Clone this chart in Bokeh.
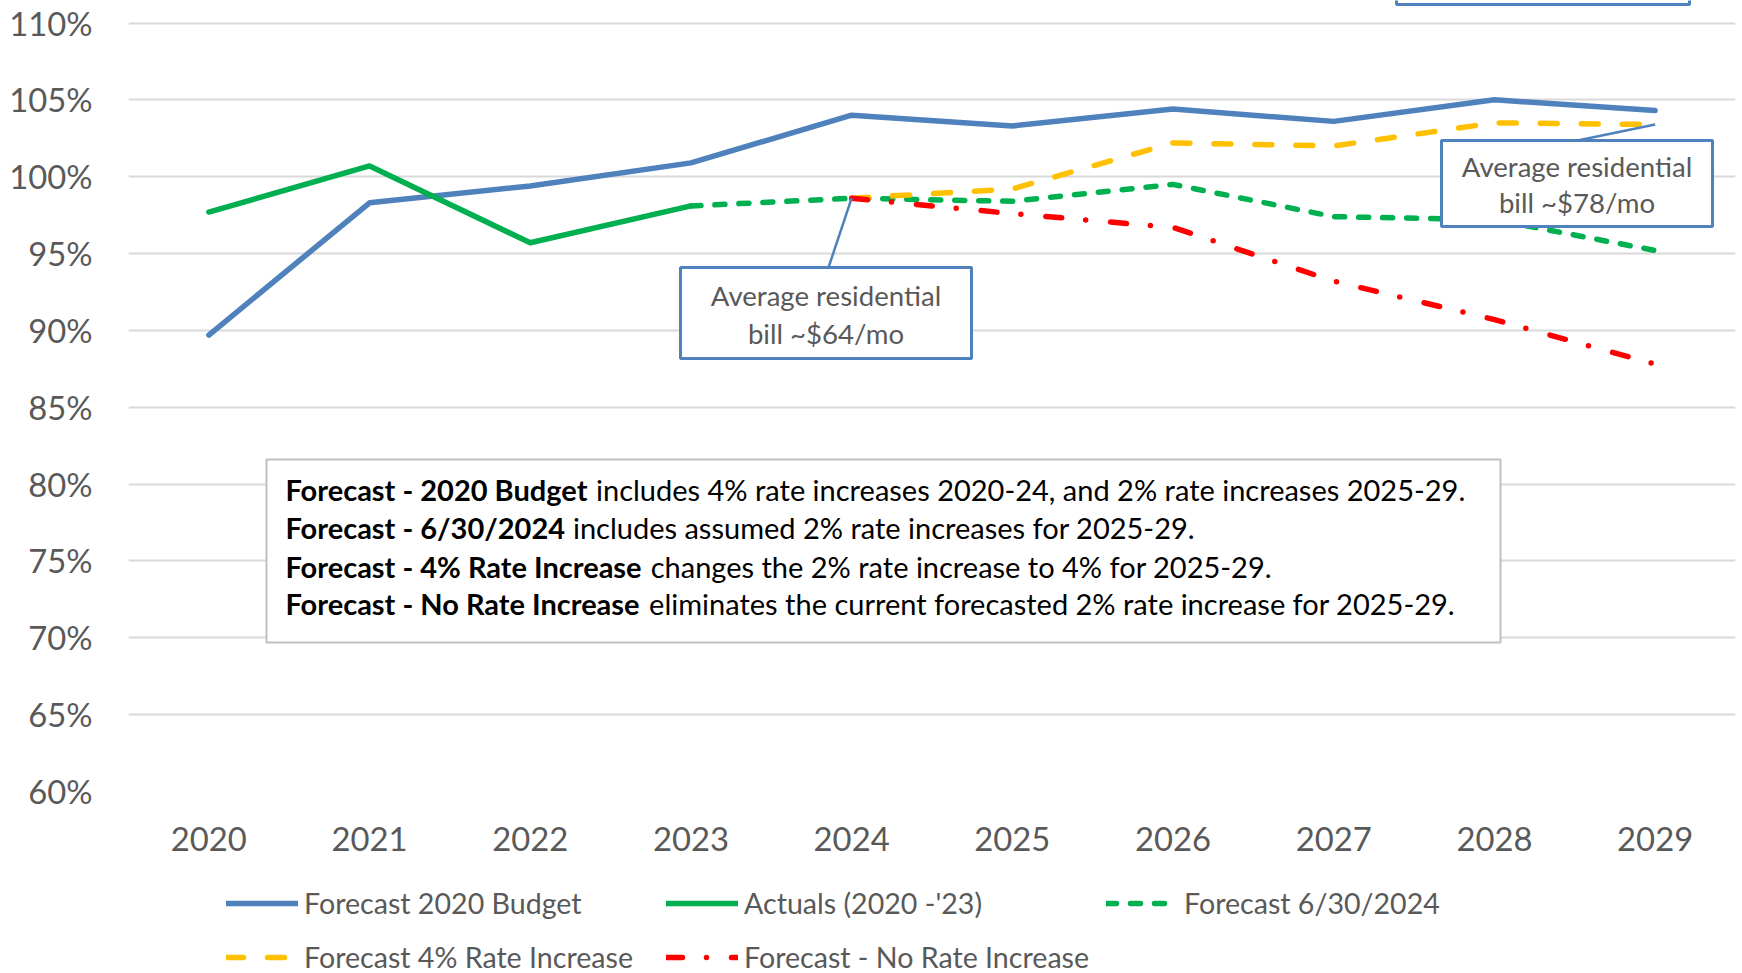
import os, glob, struct, subprocess
from bokeh.plotting import figure
from bokeh.layouts import column
from bokeh.models import Range1d, FixedTicker, NumeralTickFormatter, Legend, LegendItem
from bokeh.core.properties import value
from bokeh.embed import file_html
from bokeh.resources import INLINE

# ---------------- data ----------------
years = ["2020", "2021", "2022", "2023", "2024", "2025", "2026", "2027", "2028", "2029"]
budget_2020 = [0.897, 0.983, 0.994, 1.009, 1.040, 1.033, 1.044, 1.036, 1.050, 1.043]
actual_years = ["2020", "2021", "2022", "2023"]
actuals = [0.977, 1.007, 0.957, 0.981]
fc630_years = ["2023", "2024", "2025", "2026", "2027", "2028", "2029"]
fc630 = [0.981, 0.986, 0.984, 0.995, 0.974, 0.972, 0.952]
fc4_years = ["2024", "2025", "2026", "2027", "2028", "2029"]
fc4 = [0.986, 0.992, 1.022, 1.020, 1.035, 1.034]
fcno_years = ["2024", "2025", "2026", "2027", "2028", "2029"]
fcno = [0.986, 0.976, 0.967, 0.932, 0.907, 0.878]
y_ticks = [0.60, 0.65, 0.70, 0.75, 0.80, 0.85, 0.90, 0.95, 1.00, 1.05, 1.10]

series_labels = ["Forecast 2020 Budget", "Actuals (2020 -'23)", "Forecast 6/30/2024",
                 "Forecast 4% Rate Increase", "Forecast - No Rate Increase"]
note_bold = ["Forecast - 2020 Budget", "Forecast - 6/30/2024",
             "Forecast - 4% Rate Increase", "Forecast - No Rate Increase"]
note_rest = ["includes 4% rate increases 2020-24, and 2% rate increases 2025-29.",
             "includes assumed 2% rate increases for 2025-29.",
             "changes the 2% rate increase to 4% for 2025-29.",
             "eliminates the current forecasted 2% rate increase for 2025-29."]
callout_64 = ["Average residential", "bill ~$64/mo"]
callout_78 = ["Average residential", "bill ~$78/mo"]

BLUE = "#4F81BD"
GREEN = "#00B050"
YELLOW = "#FFC000"
RED = "#FF0000"
GREY_TXT = "#595959"
FONT = "Lato"

# ---------------- font metrics (for placing bold/regular runs) ----------------
def _find_font(family, style):
    path = None
    try:
        r = subprocess.run(["fc-match", "-f", "%{file}", f"{family}:style={style}"],
                           capture_output=True, text=True, timeout=5)
        c = r.stdout.strip()
        if c and os.path.exists(c) and family.replace(" ", "").lower() in os.path.basename(c).replace(" ", "").lower():
            path = c
    except Exception:
        pass
    if path is None:
        name = f"{family.replace(' ', '')}-{style}"
        for root in ["/usr/share/fonts", "/usr/local/share/fonts",
                     os.path.expanduser("~/.fonts"), os.path.expanduser("~/.local/share/fonts")]:
            hits = glob.glob(os.path.join(root, "**", name + ".*"), recursive=True)
            if hits:
                path = hits[0]
                break
    return path


def _load_metrics(path):
    data = open(path, "rb").read()
    base = 0
    if data[:4] == b"ttcf":
        base = struct.unpack(">I", data[12:16])[0]
    num = struct.unpack(">H", data[base + 4:base + 6])[0]
    tables = {}
    for i in range(num):
        tag, _, off, ln = struct.unpack(">4sIII", data[base + 12 + 16 * i:base + 28 + 16 * i])
        tables[tag] = off
    head = tables[b"head"]
    upem = struct.unpack(">H", data[head + 18:head + 20])[0]
    hhea = tables[b"hhea"]
    nhm = struct.unpack(">H", data[hhea + 34:hhea + 36])[0]
    hm = tables[b"hmtx"]
    adv = [struct.unpack(">H", data[hm + 4 * i:hm + 4 * i + 2])[0] for i in range(nhm)]
    cm = tables[b"cmap"]
    nsub = struct.unpack(">H", data[cm + 2:cm + 4])[0]
    subs = []
    for i in range(nsub):
        pid, eid, so = struct.unpack(">HHI", data[cm + 4 + 8 * i:cm + 12 + 8 * i])
        subs.append((pid, eid, cm + so))
    subs.sort(key=lambda s: 0 if (s[0], s[1]) == (3, 1) else 1)
    cmap = {}
    for pid, eid, st in subs:
        fmt = struct.unpack(">H", data[st:st + 2])[0]
        if fmt != 4:
            continue
        segx2 = struct.unpack(">H", data[st + 6:st + 8])[0]
        n = segx2 // 2
        ends = struct.unpack(">%dH" % n, data[st + 14:st + 14 + segx2])
        starts = struct.unpack(">%dH" % n, data[st + 16 + segx2:st + 16 + 2 * segx2])
        deltas = struct.unpack(">%dh" % n, data[st + 16 + 2 * segx2:st + 16 + 3 * segx2])
        ro_base = st + 16 + 3 * segx2
        ros = struct.unpack(">%dH" % n, data[ro_base:ro_base + segx2])
        for s in range(n):
            for c in range(starts[s], min(ends[s], 0x24FF) + 1):
                if c == 0xFFFF:
                    continue
                if ros[s] == 0:
                    g = (c + deltas[s]) & 0xFFFF
                else:
                    a = ro_base + 2 * s + ros[s] + 2 * (c - starts[s])
                    g = struct.unpack(">H", data[a:a + 2])[0]
                    if g:
                        g = (g + deltas[s]) & 0xFFFF
                cmap[c] = g
        break
    if not cmap:
        return None

    def width(text, size):
        t = 0
        for ch in text:
            g = cmap.get(ord(ch), 0)
            t += adv[g] if g < len(adv) else adv[-1]
        return t * size / upem
    return width


def _metrics(family, style, fallback):
    try:
        p = _find_font(family, style)
        if p:
            w = _load_metrics(p)
            if w:
                return w
    except Exception:
        pass
    return lambda text, size: len(text) * size * fallback

wR = _metrics(FONT, "Regular", 0.50)
wB = _metrics(FONT, "Bold", 0.53)

# font sizes chosen so that text widths match the reference
axis_fs = 76.0 / wR("2020", 1.0)
box_fs = 1184.0 / (wB(note_bold[0], 1.0) + wR(" " + note_rest[0], 1.0))
ann_fs = 233.0 / wR(callout_64[0], 1.0)
leg_fs = 280.0 / wR(series_labels[0], 1.0)

# ---------------- layout (page pixels == canvas pixels) ----------------
W = 1742
H_MAIN, H_LEG = 860, 113
LEFT, RIGHT = 128, 7
FW = W - LEFT - RIGHT          # 1607 px -> 160.7 px per year
FH = 791                       # frame bottom at the 60% line
BOTTOM = H_MAIN - FH
NCAT = len(years)
CAT_W = FW / NCAT
Y_LO = 0.60
Y_HI = 1.10 + 22.5 / 76.85 * 0.05   # 110% line sits 22.5 px below the top


def dx(page_x):
    return -0.5 + (page_x - LEFT) / CAT_W


def dy(page_y):
    return Y_HI - page_y / FH * (Y_HI - Y_LO)


xi = {y: i for i, y in enumerate(years)}

p = figure(width=W, height=H_MAIN, output_backend="svg", toolbar_location=None,
           x_range=Range1d(-0.5, NCAT - 0.5), y_range=Range1d(Y_LO, Y_HI),
           min_border_left=LEFT, min_border_right=RIGHT, min_border_top=0, min_border_bottom=BOTTOM,
           background_fill_color="white", border_fill_color="white")
p.outline_line_color = None
p.xgrid.grid_line_color = None
p.ygrid.grid_line_color = "#D9D9D9"
p.ygrid.grid_line_width = 2

p.yaxis.ticker = FixedTicker(ticks=y_ticks)
p.yaxis.formatter = NumeralTickFormatter(format="0%")
p.xaxis.ticker = FixedTicker(ticks=list(range(NCAT)))
p.xaxis.major_label_overrides = {i: y for i, y in enumerate(years)}
for ax in (p.xaxis, p.yaxis):
    ax.axis_line_color = None
    ax.major_tick_line_color = None
    ax.minor_tick_line_color = None
    ax.major_tick_out = 0
    ax.major_tick_in = 0
    ax.major_label_text_font = FONT
    ax.major_label_text_font_size = f"{axis_fs:.1f}px"
    ax.major_label_text_color = GREY_TXT
p.yaxis.major_label_standoff = 36
p.xaxis.major_label_standoff = 35

# ---------------- series ----------------
LW = 5.5
style_budget = dict(line_color=BLUE, line_width=LW, line_join="round", line_cap="round")
style_act = dict(line_color=GREEN, line_width=LW, line_join="round", line_cap="round")
style_630 = dict(line_color=GREEN, line_width=LW, line_join="round", line_cap="round", line_dash="10 14")
style_4 = dict(line_color=YELLOW, line_width=LW, line_join="round", line_cap="round", line_dash="17 24")
style_no = dict(line_color=RED, line_width=LW, line_join="round", line_cap="round", line_dash="16 24 0 25")

series = [
    (years, budget_2020, style_budget),
    (actual_years, actuals, style_act),
    (fc630_years, fc630, style_630),
    (fc4_years, fc4, style_4),
    (fcno_years, fcno, style_no),
]
for yrs, vals, st in series:
    p.line([xi[y] for y in yrs], vals, **st)

# ---------------- callouts ----------------
p.segment(x0=[dx(828), dx(1577)], y0=[dy(267), dy(140)],
          x1=[xi["2024"], xi["2029"]], y1=[fc630[fc630_years.index("2024")], fc4[-1]],
          line_color=BLUE, line_width=2.5)

# callout boxes (the third one is cropped at the top edge of the picture)
p.quad(left=[dx(680), dx(1441), dx(1396)], right=[dx(971), dx(1712), dx(1689)],
       top=[dy(267), dy(140), Y_HI + 0.05], bottom=[dy(358), dy(226), dy(4)],
       fill_color="white", line_color=BLUE, line_width=3)
p.text(x=[dx(825.5)] * 2 + [dx(1576.5)] * 2,
       y=[dy(294.5), dy(333), dy(166), dy(202)],
       text=callout_64 + callout_78,
       text_font=value(FONT), text_font_size=value(f"{ann_fs:.1f}px"),
       text_color=GREY_TXT, text_align="center", text_baseline="middle")

# ---------------- note box ----------------
p.quad(left=[dx(266)], right=[dx(1500)], top=[dy(459)], bottom=[dy(642)],
       fill_color="white", line_color="#BFBFBF", line_width=2)
line_ys = [489, 527, 566, 603]
x0 = 285
space_w = wR(" ", box_fs) * 0.8
p.text(x=[dx(x0)] * 4, y=[dy(v) for v in line_ys], text=note_bold,
       text_font=value(FONT), text_font_size=value(f"{box_fs:.1f}px"), text_font_style="bold",
       text_color="black", text_align="left", text_baseline="middle")
p.text(x=[dx(x0 + wB(b, box_fs) + space_w) for b in note_bold], y=[dy(v) for v in line_ys],
       text=note_rest,
       text_font=value(FONT), text_font_size=value(f"{box_fs:.1f}px"),
       text_color="black", text_align="left", text_baseline="middle")

# ---------------- legend strip (separate figure below the chart) ----------------
# its x range is placed away from the data so the series themselves stay hidden here;
# the strip only shows the legend entries.
pl = figure(width=W, height=H_LEG, output_backend="svg", toolbar_location=None,
            x_range=Range1d(1000, 1001), y_range=Range1d(0, 1),
            min_border_left=LEFT, min_border_right=RIGHT, min_border_top=0, min_border_bottom=0,
            x_axis_location=None, y_axis_location=None,
            background_fill_color="white", border_fill_color="white")
pl.outline_line_color = None
pl.grid.visible = False

leg_r = [pl.line([xi[y] for y in yrs], vals, **st) for yrs, vals, st in series]

ROW_H = 40
ROW1 = 903 - H_MAIN     # row centres in legend-strip pixels
ROW2 = 957 - H_MAIN
GAP = (ROW2 - ROW1) - ROW_H


def mk_legend(items, col_x):
    n = len(items)
    height = n * ROW_H + (n - 1) * GAP
    bottom = ROW1 - ROW_H / 2 + height
    lg = Legend(items=items, location=(col_x - LEFT, H_LEG - bottom),
                orientation="vertical", glyph_width=72, glyph_height=ROW_H,
                label_height=ROW_H, label_standoff=6, spacing=GAP,
                padding=0, margin=0, border_line_color=None, background_fill_alpha=0,
                label_text_font=FONT, label_text_font_size=f"{leg_fs:.1f}px",
                label_text_color=GREY_TXT, label_text_baseline="middle")
    pl.add_layout(lg)

mk_legend([LegendItem(label=series_labels[0], renderers=[leg_r[0]]),
           LegendItem(label=series_labels[3], renderers=[leg_r[3]])], 226)
mk_legend([LegendItem(label=series_labels[1], renderers=[leg_r[1]]),
           LegendItem(label=series_labels[4], renderers=[leg_r[4]])], 666)
mk_legend([LegendItem(label=series_labels[2], renderers=[leg_r[2]])], 1106)

layout = column(p, pl, spacing=0)
open("out.html", "w").write(file_html(layout, INLINE))
